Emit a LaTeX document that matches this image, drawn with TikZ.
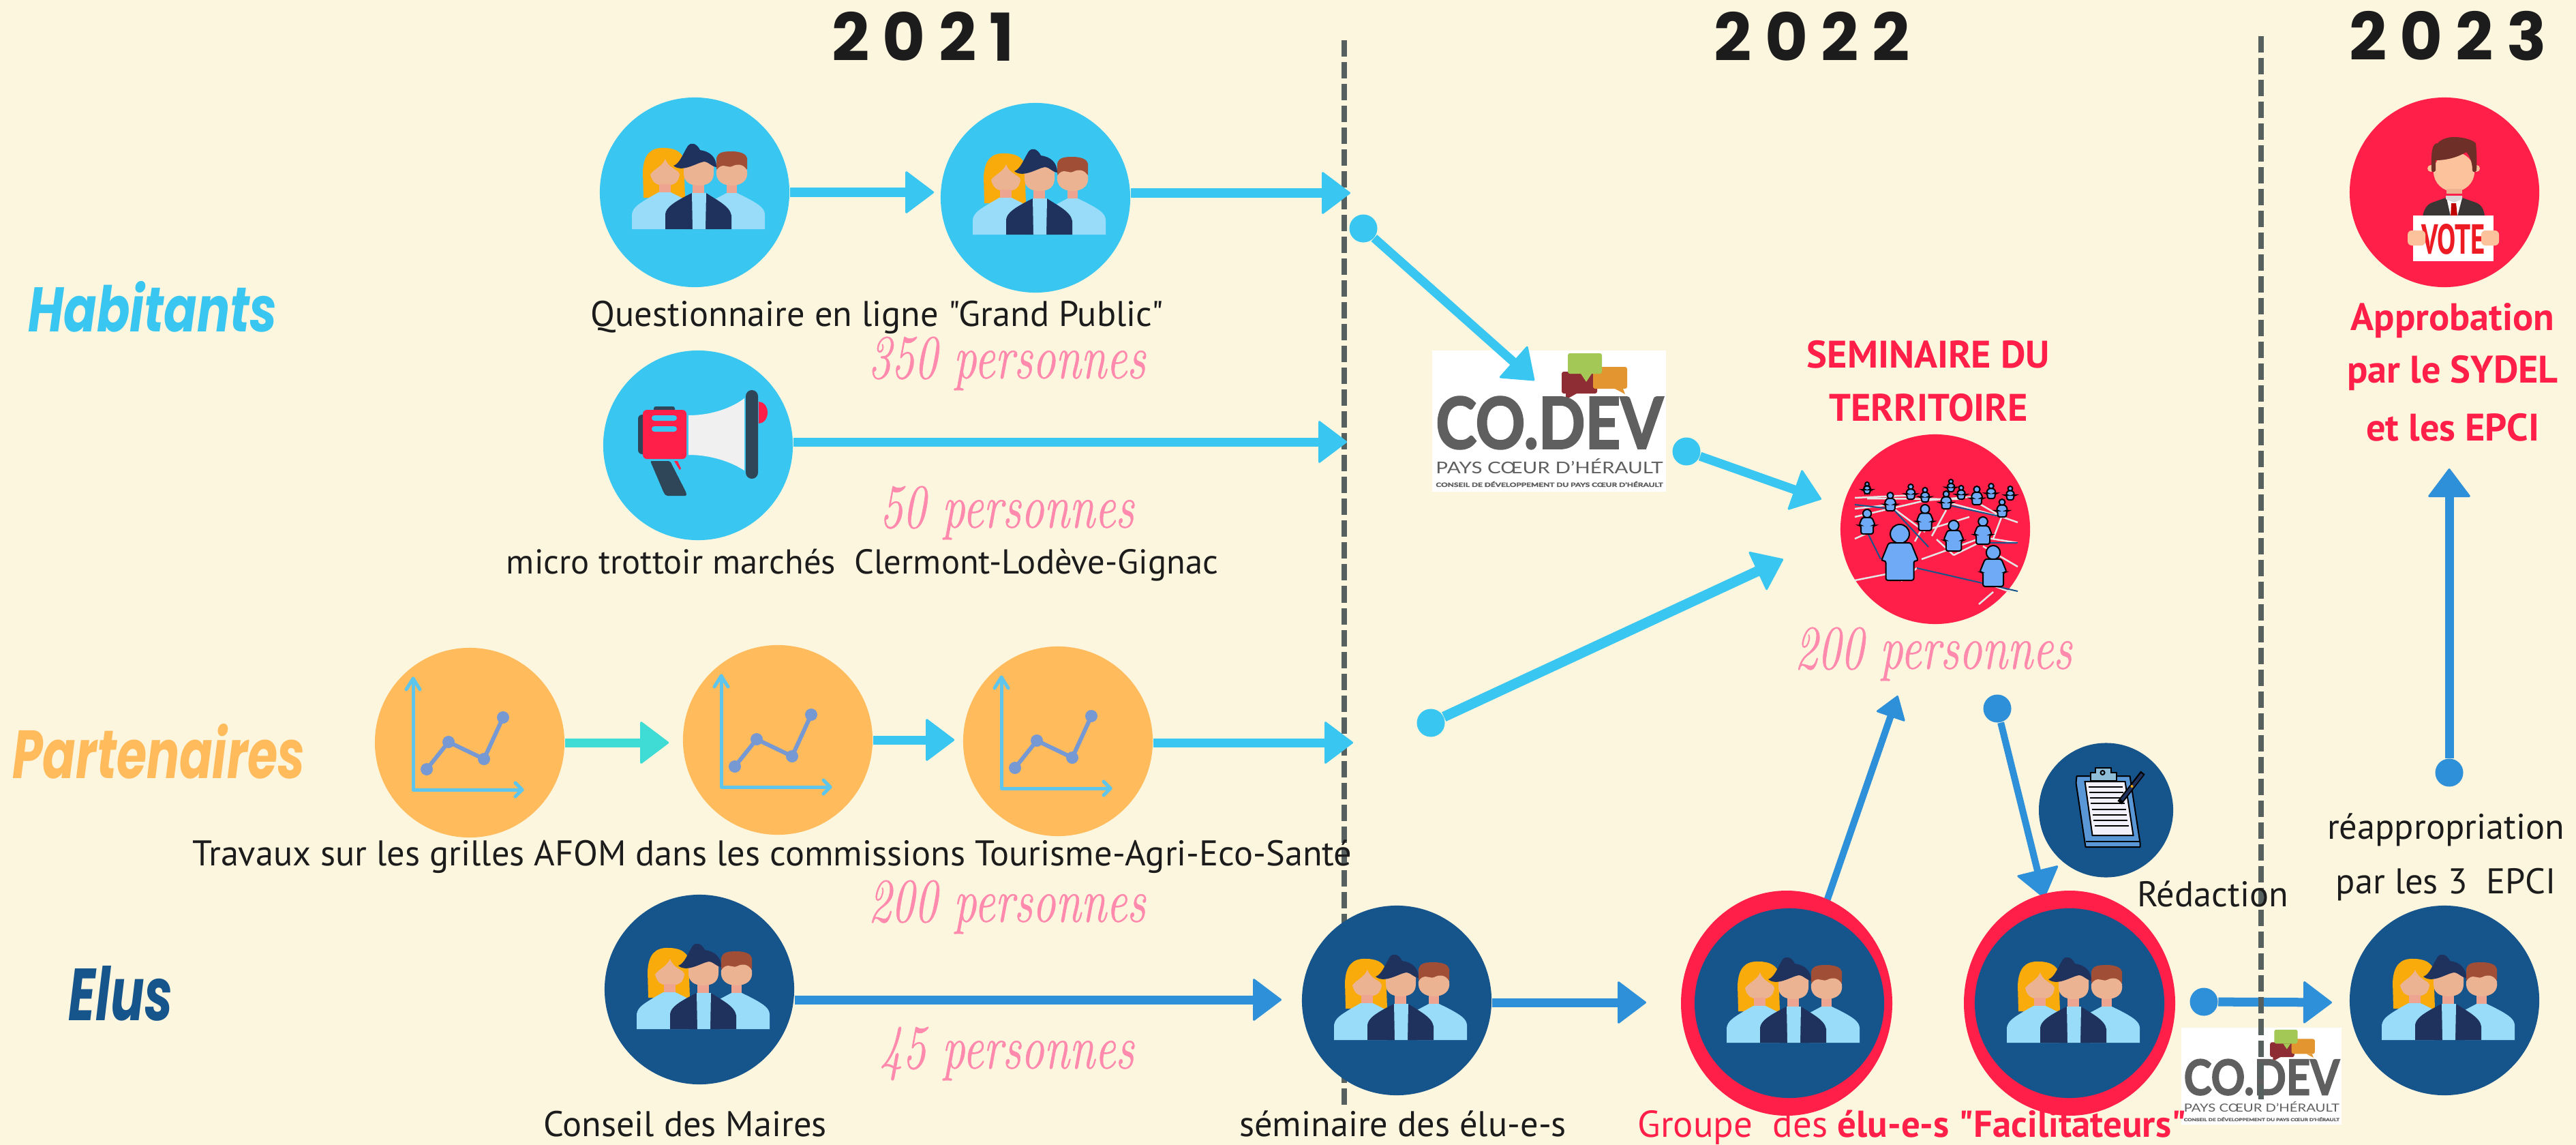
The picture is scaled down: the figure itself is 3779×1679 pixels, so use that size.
\documentclass[tikz,border=0pt]{standalone}
\usepackage{graphicx}
\usepackage{fontspec}
\newfontfamily\capfont{PT Sans}
\setmainfont{PT Sans}
\newfontfamily\yearfont[LetterSpace=20]{Poppins}
\newfontfamily\rowfont{Poppins}
\newfontfamily\pinkfont[FakeStretch=0.74,ItalicFeatures={FakeBold=0.6}]{Latin Modern Roman}
\newfontfamily\logofont[BoldFeatures={FakeBold=2.5}]{Lato}
\usetikzlibrary{arrows.meta}

\definecolor{paper}{HTML}{FDF6DF}
\definecolor{skyc}{HTML}{39C7F1}
\definecolor{orangec}{HTML}{FFBB5C}
\definecolor{navyc}{HTML}{16548C}
\definecolor{redc}{HTML}{FF1F48}
\definecolor{bluec}{HTML}{2E90D9}
\definecolor{turqc}{HTML}{3FDCD6}
\definecolor{pinkc}{HTML}{FF8AAD}
\definecolor{inkc}{HTML}{1C1C1C}
\definecolor{dashc}{HTML}{56605F}
\definecolor{goldc}{HTML}{F9AB0B}
\definecolor{suitc}{HTML}{1F325E}
\definecolor{brownc}{HTML}{A04E36}
\definecolor{skinc}{HTML}{EBB391}
\definecolor{neckc}{HTML}{EDA591}
\definecolor{shirtc}{HTML}{98DCF9}
\definecolor{axisc}{HTML}{5EC5EC}
\definecolor{plotc}{HTML}{7699D4}
\definecolor{slatec}{HTML}{2F4558}
\definecolor{crowdc}{HTML}{6EAAF5}
\definecolor{logoc}{HTML}{5F5F5F}
\definecolor{wineb}{HTML}{8E2D34}
\definecolor{leafb}{HTML}{A4C856}
\definecolor{amberb}{HTML}{E39530}
\definecolor{voterskin}{HTML}{FCC29B}
\definecolor{voterhair}{HTML}{6D2F28}
\definecolor{voterjacket}{HTML}{3B3636}
\definecolor{voterred}{HTML}{ED1C24}
\definecolor{boardc}{HTML}{5A97D6}
\definecolor{clipc}{HTML}{8FBCD6}
\definecolor{sheetc}{HTML}{F2F0FA}

\tikzset{
  dot/.style={circle,inner sep=0pt,minimum size=2.78cm},
  skydot/.style={dot,fill=skyc},
  orangedot/.style={dot,fill=orangec},
  navydot/.style={dot,fill=navyc},
  reddot/.style={dot,fill=redc},
  ball/.style={circle,inner sep=0pt,minimum size=0.41cm},
  flow/.style={line width=0.13cm,-{Triangle[length=0.43cm,width=0.64cm,round,line width=0.03cm]}},
  skyflow/.style={flow,draw=skyc,color=skyc},
  blueflow/.style={flow,draw=bluec,color=bluec},
  turqflow/.style={flow,draw=turqc,color=turqc},
  yeardash/.style={draw=dashc,line width=0.08cm,dash pattern=on 0.24cm off 0.08cm},
  yearlab/.style={font=\yearfont\fontsize{27.5}{30}\selectfont\bfseries,text=inkc},
  rowlab/.style={font=\rowfont\fontsize{25}{28}\selectfont\bfseries\itshape,inner sep=0pt},
  caption/.style={font=\capfont\fontsize{14.9}{17}\selectfont,text=inkc},
  count/.style={font=\pinkfont\fontsize{26}{28}\selectfont\itshape,text=pinkc},
  redlab/.style={font=\capfont\fontsize{16}{18}\selectfont\bfseries,text=redc},
  pics/trio/.style={code={
    \fill[goldc] (-75,8) -- (-76,-30) .. controls (-75,-55) and (-65,-66) .. (-45,-65) .. controls (-30,-65) and (-20,-60) .. (-16,-50) -- (-14,8) -- cycle;
    \fill[skinc] (-43,-49) .. controls (-38,-34) and (-23,-34) .. (-22,-26) .. controls (-24,-14) and (-30,-10) .. (-43,-10) .. controls (-56,-10) and (-62,-14) .. (-65,-26) .. controls (-60,-34) and (-47,-38) .. (-43,-49) -- cycle;
    \fill[neckc] (-52,-12) rectangle (-35,2);
    \fill[shirtc] (-92,54) -- (-92,32) .. controls (-90,22) and (-85,18) .. (-53,0) -- (-35,0) -- (-15,10) -- (-15,54) -- cycle;
    \fill[brownc] (32,-34) -- (32,-50) .. controls (34,-58) and (40,-60) .. (54,-60) .. controls (70,-60) and (76,-55) .. (77,-50) -- (77,-34) -- cycle;
    \fill[neckc] (47,-12) rectangle (62,3);
    \fill[skinc] (32,-32) .. controls (40,-45) and (48,-35) .. (55,-38) .. controls (62,-42) and (72,-42) .. (77,-32) .. controls (79,-18) and (70,-10) .. (54,-10) .. controls (40,-10) and (30,-18) .. (32,-32) -- cycle;
    \fill[shirtc] (103,54) -- (103,32) .. controls (102,24) and (98,18) .. (62,1) -- (47,1) -- (30,10) -- (30,54) -- cycle;
    \fill[neckc] (-3,-12) rectangle (14,3);
    \fill[skinc] (-16,-45) -- (28,-45) -- (28,-28) .. controls (28,-16) and (20,-10) .. (6,-10) .. controls (-8,-10) and (-16,-16) .. (-16,-28) -- cycle;
    \fill[suitc] (-31,-39) .. controls (-22,-42) and (-18,-55) .. (-10,-68) .. controls (-5,-74) and (3,-72) .. (8,-62) .. controls (22,-60) and (32,-52) .. (32,-37) .. controls (24,-38) and (22,-44) .. (14,-45) .. controls (4,-44) and (-18,-28) .. (-31,-39) -- cycle;
    \fill[suitc] (-43,54) -- (-43,32) .. controls (-42,22) and (-30,14) .. (-4,1) -- (17,1) .. controls (30,10) and (52,20) .. (54,34) -- (54,54) -- cycle;
    \fill[shirtc] (-4,1) -- (17,1) -- (16,54) -- (-3,54) -- cycle;
  }},
  pics/graphic/.style={code={
    \draw[axisc,line width=0.05cm,line cap=round,line join=round] (-83,-94) -- (-83,69) -- (77,69);
    \draw[axisc,line width=0.05cm,line cap=round,line join=round] (-93,-78) -- (-83,-94) -- (-73,-78);
    \draw[axisc,line width=0.05cm,line cap=round,line join=round] (67,59) -- (77,69) -- (67,79);
    \draw[plotc,line width=0.06cm] (-63,39) -- (-31,-1) -- (21,24) -- (49,-37);
    \foreach \gx/\gy in {-63/39,-31/-1,21/24,49/-37}
      \fill[plotc] (\gx,\gy) circle [radius=9];
  }},
  pics/codev/.style={code={
    \fill[white] (0,0) rectangle (343,207);
    \fill[wineb,rounded corners=0.03cm] (190,31) rectangle (242,63);
    \fill[wineb] (196,63) -- (196,72) -- (212,63) -- cycle;
    \fill[amberb,rounded corners=0.03cm] (236,24) rectangle (286,56);
    \fill[amberb] (268,56) -- (283,64) -- (280,56) -- cycle;
    \fill[leafb,rounded corners=0.03cm] (199,4) rectangle (249,34);
    \fill[leafb] (218,34) -- (226,46) -- (234,34) -- cycle;
    \node[transform shape,inner sep=0pt,text=logoc] (logoname) at (172,106) {\resizebox{3.33cm}{0.76cm}{\logofont\bfseries CO.DEV}};
    \node[transform shape,inner sep=0pt,text=logoc] (logoplace) at (172,170) {\resizebox{3.33cm}{0.22cm}{\logofont PAYS CŒUR D’HÉRAULT}};
    \node[transform shape,inner sep=0pt,text=logoc] (logofull) at (172,196) {\resizebox{3.33cm}{0.08cm}{\logofont\bfseries CONSEIL DE DÉVELOPPEMENT DU PAYS CŒUR D’HÉRAULT}};
  }}
}

\begin{document}
\begin{tikzpicture}[x=0.01cm,y=-0.01cm]
\useasboundingbox (0,0) rectangle (3779,1679);
\fill[paper] (0,0) rectangle (3779,1679);

\node[yearlab] (yearA) at (1354,53) {2021};
\node[yearlab] (yearB) at (2658,53) {2022};
\node[yearlab] (yearC) at (3591,53) {2023};

\node[rowlab,text=skyc] (rowH) at (224,450) {\resizebox{3.65cm}{0.74cm}{Habitants}};
\node[rowlab,text=orangec] (rowP) at (233,1102) {\resizebox{4.29cm}{0.80cm}{Partenaires}};
\node[rowlab,text=navyc] (rowE) at (177,1457) {\resizebox{1.52cm}{0.80cm}{Elus}};

\draw[yeardash] (1972,59) -- (1972,1620);

\node[skydot] (qA) at (1019,282) {};
\node[skydot] (qB) at (1519,290) {};
\node[skydot] (mic) at (1024,653) {};
\node[orangedot] (gA) at (689,1089) {};
\node[orangedot] (gB) at (1141,1085) {};
\node[orangedot] (gC) at (1552,1087) {};
\node[navydot] (eA) at (1026,1451) {};
\node[navydot] (eB) at (2049,1467) {};
\node[reddot] (sem) at (2839,776) {};
\node[reddot] (vote) at (3586,282) {};
\node[navydot] (eE) at (3586,1467) {};
\node[dot,minimum size=1.97cm,fill=navyc] (clip) at (3089.5,1188) {};

\coordinate (qBout) at (1981,283);
\coordinate (micout) at (1976,648);
\coordinate (gCout) at (1985,1089);
\coordinate (codevin) at (2251,558);
\coordinate (semA) at (2672,732);
\coordinate (semB) at (2616,820);
\coordinate (eAout) at (1880,1466);
\coordinate (eBout) at (2415,1470);
\coordinate (grpstart) at (2680,1321);
\coordinate (grpout) at (2784,1020);
\coordinate (grpin) at (2999,1317);
\coordinate (eEin) at (3421,1470);
\coordinate (voteup) at (3593,687);

\node[ball,fill=skyc] (bA) at (2000,335) {};
\node[ball,fill=skyc] (bB) at (2474,662) {};
\node[ball,fill=skyc] (bC) at (2099,1060) {};
\node[ball,fill=bluec] (bD) at (2930,1039) {};
\node[ball,fill=bluec] (bE) at (3233,1469) {};
\node[ball,fill=bluec] (bF) at (3593,1133) {};

\draw[skyflow,shorten >=0.09cm] (qA) -- (qA -| qB.west);
\draw[skyflow] (qB.east |- qBout) -- (qBout);
\draw[skyflow] (mic.east |- micout) -- (micout);
\draw[turqflow,shorten >=0.20cm] (gA) -- (gA -| gB.west);
\draw[skyflow,shorten >=0.12cm] (gB) -- (gB -| gC.west);
\draw[skyflow] (gC.east |- gCout) -- (gCout);
\draw[blueflow] (eA.east |- eAout) -- (eAout);
\draw[blueflow] (eB.east |- eBout) -- (eBout);

% logos before the arrow that enters the first one
\pic at (2101,514) {codev};
\pic[scale=0.685] at (3200,1507) {codev};

\draw[skyflow] (bA) -- (codevin);
\draw[skyflow] (bB) -- (semA);
\draw[skyflow,line width=0.15cm] (bC) -- (semB);
\draw[blueflow,line width=0.10cm,-{Triangle[length=0.34cm,width=0.46cm,round,line width=0.03cm]}] (grpstart) -- (grpout);
\draw[blueflow,line width=0.10cm] (bD) -- (grpin);
\draw[blueflow] (bE) -- (eEin);
\draw[blueflow] (bF) -- (voteup);

\fill[redc] (2621,1471) ellipse [x radius=155,y radius=165];
\fill[redc] (3036,1471) ellipse [x radius=155,y radius=165];
\node[navydot] (eC) at (2625,1471) {};
\node[navydot] (eD) at (3036,1471) {};

\pic at (qA) {trio};
\pic at (qB) {trio};
\pic at (1026,1455) {trio};
\pic at (2049,1471) {trio};
\pic at (2625,1475) {trio};
\pic at (3036,1475) {trio};
\pic at (3586,1471) {trio};

\pic at (gA) {graphic};
\pic at (gB) {graphic};
\pic at (gC) {graphic};

% megaphone
\begin{scope}[shift={(1024,653)}]
\fill[white!94!black] (-14,-44) .. controls (20,-44) and (50,-55) .. (68,-69) -- (68,37) .. controls (50,25) and (20,14) .. (-14,14) -- cycle;
\fill[slatec,rounded corners=0.06cm] (-88,-45) rectangle (-70,13);
\fill[slatec,rounded corners=0.03cm] (-65,-57) rectangle (-34,-45);
\fill[redc] (89,-32) arc (90:-90:13 and 16) -- cycle;
\fill[slatec,rounded corners=0.09cm] (70,-81) rectangle (88,49);
\fill[redc,rounded corners=0.06cm] (-81,-52) rectangle (-17,20);
\fill[skyc,rounded corners=0.04cm] (-68,-44) rectangle (-31,-36);
\fill[skyc,rounded corners=0.04cm] (-68,-28) rectangle (-31,-20);
\fill[slatec,rounded corners=0.02cm] (-70,23) -- (-41,23) -- (-17,70) -- (-17,74) -- (-47,74) -- (-50,70) -- cycle;
\fill[redc] (-35,23) -- (-30,23) -- (-25,34) -- (-27,36) -- cycle;
\end{scope}

% voter
\begin{scope}[shift={(3586,282)}]
\fill[voterskin] (47,-35) circle [radius=5];
\fill[voterskin] (-20,-35) circle [radius=5];
\fill[voterskin] (14,-30) ellipse [x radius=30,y radius=29];
\fill[skinc] (3,-5) rectangle (26,2);
\fill[voterhair] (-19,-32) .. controls (-20,-60) and (-18,-72) .. (-10,-72) .. controls (-5,-78) and (5,-81) .. (14,-81) .. controls (25,-81) and (40,-78) .. (46,-72) .. controls (47,-60) and (48,-45) .. (47,-32) .. controls (45,-29) and (42,-29) .. (41,-32) .. controls (41,-45) and (36,-55) .. (32,-59) .. controls (20,-52) and (5,-47) .. (-13,-47) -- (-13,-32) .. controls (-15,-29) and (-18,-29) .. (-19,-32) -- cycle;
\fill[voterjacket] (-32,35) .. controls (-30,25) and (-26,18) .. (-18,15) -- (2,8) -- (26,8) -- (46,15) .. controls (54,18) and (58,25) .. (59,35) -- cycle;
\fill[white] (3,8) -- (26,8) -- (19,35) -- (9,35) -- cycle;
\fill[black!15] (2,5) -- (26,5) -- (26,10) -- (14,15) -- (2,10) -- cycle;
\fill[red!75!black] (10,16) -- (17,16) -- (19,35) -- (9,35) -- cycle;
\fill[white] (-46,34) rectangle (72,101);
\node[inner sep=0pt,text=voterred] (votesign) at (13,69) {\resizebox{0.93cm}{0.44cm}{\capfont\bfseries VOTE}};
\fill[voterskin,rounded corners=0.06cm] (-54,56) rectangle (-28,78);
\fill[voterskin,rounded corners=0.06cm] (54,56) rectangle (80,78);
\end{scope}

% clipboard
\begin{scope}[shift={(3089.5,1188)}]
\draw[fill=boardc,line width=0.02cm,line join=round] (-43,-50) -- (35,-50) -- (50,48) -- (50,54) -- (-30,54) -- (-44,-40) -- cycle;
\draw[line width=0.02cm] (-30,46) -- (50,46);
\draw[fill=sheetc,line width=0.02cm] (-31,-42) -- (28,-42) -- (40,37) -- (-20,37) -- cycle;
\draw[fill=clipc,line width=0.02cm] (-23,-43) -- (-23,-55) -- (-16,-55) -- (-16,-62) -- (7,-62) -- (7,-55) -- (15,-55) -- (15,-43) -- cycle;
\draw[line width=0.02cm] (-5,-55) circle [radius=3];
\foreach \lno in {0,...,7}
  \draw[line width=0.02cm] ({-26+1.29*\lno},{-34+8.14*\lno}) -- ({24+1.29*\lno},{-34+8.14*\lno});
\draw[draw=black,line width=0.08cm] (20,-11) -- (54,-55);
\draw[suitc,line width=0.04cm] (23,-15) -- (53,-53);
\fill[goldc] (38,-35) circle [radius=2];
\end{scope}

% crowd
\begin{scope}[shift={(2839,776)}]
\foreach \ax/\ay/\bx/\by in {-118/-46/-30/-50,-100/-45/38/-44,-118/-30/-66/-36,-118/-18/-15/-42,-66/-34/-15/4,-100/6/-118/14,-27/57/-50/76,-118/75/-52/62,-20/44/70/12,-15/2/50/-18,15/-40/98/-18,27/38/70/17,70/12/121/20,98/-18/121/-10,16/-28/-5/10,60/-40/98/-18,70/25/121/55,2/15/27/38,-20/0/-30/18,69/77/110/92,-15/-42/60/-48,98/-20/85/14,85/92/64/110}
{
  \draw[white!90!black,line width=0.025cm] (\ax,\ay) -- (\bx,\by);
}
\draw[navyc,line width=0.02cm] (-27,57) -- (121,91);
\draw[navyc,line width=0.02cm] (-118,-36) -- (-66,-30);
\draw[navyc,line width=0.02cm] (-66,-34) -- (-10,26);
\draw[navyc,line width=0.02cm] (16,-36) -- (98,-18);
\draw[navyc,line width=0.02cm] (-100,4) -- (-80,44);
\draw[navyc,line width=0.02cm] (70,20) -- (121,20);
\foreach \px/\py/\ph in {-100/-69/17,-36/-66/22,23/-73/18,82/-67/22,110/-63/20,38/-64/20,61/-63/27,-15/-61/21,16/-56/26,-66/-54/27,98/-44/26,-100/-29/36,-15/-36/38,70/-18/40,27/-13/45,85/24/60,-52/-7/82}
{
  \fill[crowdc,draw=black,line width=0.02cm] (\px,{\py+.17*\ph}) ellipse [x radius={.17*\ph},y radius={.17*\ph}];
  \fill[crowdc,draw=black,line width=0.02cm,rounded corners=0.03cm] ({\px-.33*\ph},{\py+.65*\ph}) -- ({\px-.2*\ph},{\py+.33*\ph}) -- ({\px+.2*\ph},{\py+.33*\ph}) -- ({\px+.33*\ph},{\py+.65*\ph}) -- ({\px+.25*\ph},{\py+.65*\ph}) -- ({\px+.25*\ph},{\py+\ph}) -- ({\px-.25*\ph},{\py+\ph}) -- ({\px-.25*\ph},{\py+.65*\ph}) -- cycle;
}
\end{scope}

\draw[yeardash] (3317,53) -- (3317,1612);

\node[caption] (capA) at (1287,465) {Questionnaire en ligne "Grand Public"};
\node[caption,font=\capfont\fontsize{14.4}{17}\selectfont] (capB) at (1265,829) {micro trottoir marchés\ \ Clermont-Lodève-Gignac};
\node[caption] (capC) at (1133,1256) {Travaux sur les grilles AFOM dans les commissions Tourisme-Agri-Eco-Santé};
\node[caption] (capD) at (1005,1648) {Conseil des Maires};
\node[caption] (capE) at (2058,1648) {séminaire des élu-e-s};
\node[caption] (capF) at (3246,1311) {Rédaction};
\node[caption] (capG) at (3588,1217) {réappropriation};
\node[caption] (capH) at (3588,1297) {par les 3\ \ EPCI};

\node[count] (numA) at (1477,533) {350 personnes};
\node[count] (numB) at (1477,752) {50 personnes};
\node[count] (numC) at (1477,1330) {200 personnes};
\node[count] (numD) at (1477,1545) {45 personnes};
\node[count] (numE) at (2836,959) {200 personnes};

\node[redlab] (semtitleA) at (2829,520) {SEMINAIRE DU};
\node[redlab] (semtitleB) at (2829,598) {TERRITOIRE};
\node[redlab] (appA) at (3598,470) {Approbation};
\node[redlab] (appB) at (3598,547) {par le SYDEL};
\node[redlab] (appC) at (3598,627) {et les EPCI};
\node[redlab,font=\capfont\fontsize{15.6}{18}\selectfont] (grptitle) at (2805,1653) {Groupe\ \ des \textbf{élu-e-s "Facilitateurs"}};

\end{tikzpicture}
\end{document}
